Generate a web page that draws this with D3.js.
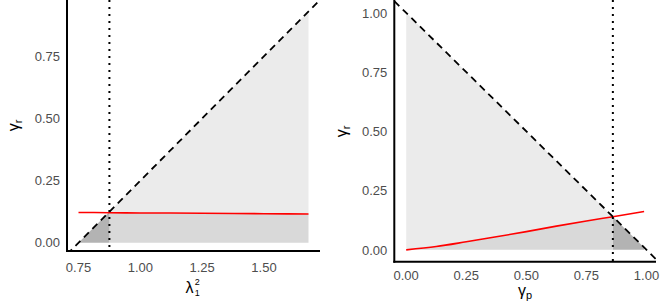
<!DOCTYPE html>
<html>
<head>
<meta charset="utf-8">
<script src="https://cdnjs.cloudflare.com/ajax/libs/d3/7.8.5/d3.min.js"></script>
<style>
  body { margin: 0; background: #fff; }
  svg { display: block; font-family: "Liberation Sans", Arial, sans-serif; }
</style>
</head>
<body>
<svg id="chart" width="664" height="305"></svg>
<script>
// left panel: lambda_1^2 vs gamma_r
var lamGrid = [0.75, 0.875, 1.0, 1.25, 1.5, 1.68];
var lamRed  = [0.122, 0.121, 0.120, 0.119, 0.117, 0.116];
var lamCut  = 0.875;              // dotted vertical
var lamDiag = {a: -0.75, b: 1};   // dashed line, gamma_r = a + b*x
var lamXTicks = [0.75, 1.00, 1.25, 1.50];
var lamYTicks = [0.00, 0.25, 0.50, 0.75];

// right panel: gamma_p vs gamma_r
var gpGrid = [0, 0.125, 0.25, 0.375, 0.5, 0.625, 0.75, 0.86, 0.99];
var gpRed  = [0.0, 0.014, 0.034, 0.055, 0.077, 0.100, 0.122, 0.140, 0.162];
var gpCut  = 0.86;
var gpDiag = {a: 1, b: -1};
var gpXTicks = [0.00, 0.25, 0.50, 0.75, 1.00];
var gpYTicks = [0.00, 0.25, 0.50, 0.75, 1.00];

var fmt = d3.format(".2f");
var svg = d3.select("#chart");

function panel(opt) {
  var x = d3.scaleLinear().domain(opt.xDom).range([opt.left, opt.right]);
  var y = d3.scaleLinear().domain(opt.yDom).range([opt.bottom, opt.top]);
  var g = svg.append("g");
  var clipId = "clip" + opt.id;
  svg.append("clipPath").attr("id", clipId).append("rect")
    .attr("x", opt.left).attr("y", 0)
    .attr("width", opt.right - opt.left).attr("height", opt.bottom);
  var body = g.append("g").attr("clip-path", "url(#" + clipId + ")");

  var diag = function(v) { return opt.diag.a + opt.diag.b * v; };
  var pts = opt.grid.map(function(v, i) { return {x: v, red: opt.red[i], dg: diag(v)}; });

  var area = d3.area().x(function(d) { return x(d.x); });

  // shaded regions
  var before = pts.filter(function(d) { return d.x <= opt.cut + 1e-9; });
  var after = pts.filter(function(d) { return d.x >= opt.cut - 1e-9; });
  var inner = opt.darkRight ? before : after;   // red below dashed
  var outer = opt.darkRight ? after : before;   // dashed below red

  body.append("path").datum(inner)
    .attr("d", area.y0(function(d) { return y(d.red); }).y1(function(d) { return y(d.dg); }))
    .attr("fill", "#ebebeb");
  body.append("path").datum(inner)
    .attr("d", area.y0(function() { return y(0); }).y1(function(d) { return y(d.red); }))
    .attr("fill", "#d9d9d9");
  body.append("path").datum(outer)
    .attr("d", area.y0(function() { return y(0); }).y1(function(d) { return y(d.dg); }))
    .attr("fill", "#b3b3b3");

  // red curve
  body.append("path").datum(pts)
    .attr("d", d3.line().curve(d3.curveMonotoneX)
      .x(function(d) { return x(d.x); }).y(function(d) { return y(d.red); }))
    .attr("fill", "none").attr("stroke", "#ff0000").attr("stroke-width", 1.6);

  // dashed line across the panel
  var xd = x.domain();
  body.append("line")
    .attr("x1", x(xd[0])).attr("y1", y(diag(xd[0])))
    .attr("x2", x(xd[1])).attr("y2", y(diag(xd[1])))
    .attr("stroke", "#000").attr("stroke-width", 1.8)
    .attr("stroke-dasharray", "7,5");

  // dotted vertical
  body.append("line")
    .attr("x1", x(opt.cut)).attr("x2", x(opt.cut))
    .attr("y1", 0).attr("y2", opt.bottom)
    .attr("stroke", "#000").attr("stroke-width", 2)
    .attr("stroke-dasharray", "2,5");

  // axis lines
  g.append("line").attr("x1", opt.left).attr("x2", opt.left)
    .attr("y1", 0).attr("y2", opt.bottom + 1)
    .attr("stroke", "#000").attr("stroke-width", 2);
  g.append("line").attr("x1", opt.left - 1).attr("x2", opt.right)
    .attr("y1", opt.bottom).attr("y2", opt.bottom)
    .attr("stroke", "#000").attr("stroke-width", 2);

  // tick labels
  g.selectAll(".xt").data(opt.xTicks).enter().append("text")
    .attr("x", function(d) { return x(d); })
    .attr("y", opt.bottom + opt.xLabGap)
    .attr("text-anchor", "middle")
    .attr("font-size", "13px").attr("fill", "#4d4d4d")
    .text(fmt);
  g.selectAll(".yt").data(opt.yTicks).enter().append("text")
    .attr("x", opt.left - 7)
    .attr("y", function(d) { return y(d); })
    .attr("dy", "0.36em")
    .attr("text-anchor", "end")
    .attr("font-size", "13px").attr("fill", "#4d4d4d")
    .text(fmt);

  // y title gamma_r
  var yt = g.append("text")
    .attr("transform", "translate(" + opt.yTitleX + "," + ((opt.top + opt.bottom) / 2) + ") rotate(-90)")
    .attr("text-anchor", "middle")
    .attr("font-size", "16px").attr("fill", "#000");
  yt.append("tspan").text("γ");
  yt.append("tspan").attr("font-size", "11px").attr("dy", "3").text("r");

  return {x: x, y: y, g: g};
}

var L = panel({
  id: "L", left: 67, right: 320, top: 0, bottom: 251,
  xDom: [0.7035, 1.7265], yDom: [-0.033, 0.976],
  grid: lamGrid, red: lamRed, cut: lamCut, diag: lamDiag, darkRight: false,
  xTicks: lamXTicks, yTicks: lamYTicks, yTitleX: 19, xLabGap: 21
});

var R = panel({
  id: "R", left: 394.3, right: 656, top: 1, bottom: 261.7,
  xDom: [-0.0495, 1.0395], yDom: [-0.05, 1.05],
  grid: gpGrid, red: gpRed, cut: gpCut, diag: gpDiag, darkRight: true,
  xTicks: gpXTicks, yTicks: gpYTicks, yTitleX: 347, xLabGap: 18.5
});

// x titles
var lx = (67 + 320) / 2;
L.g.append("text").attr("x", lx - 8).attr("y", 293)
  .attr("font-size", "16px").text("λ");
L.g.append("text").attr("x", lx + 1.2).attr("y", 284.5)
  .attr("font-size", "9px").text("2");
L.g.append("text").attr("x", lx + 1.2).attr("y", 295.5)
  .attr("font-size", "9px").text("1");

var rx = (394.3 + 656) / 2;
var xt = R.g.append("text").attr("x", rx).attr("y", 296)
  .attr("text-anchor", "middle").attr("font-size", "16px");
xt.append("tspan").text("γ");
xt.append("tspan").attr("font-size", "11px").attr("dy", "3").text("p");
</script>
</body>
</html>
